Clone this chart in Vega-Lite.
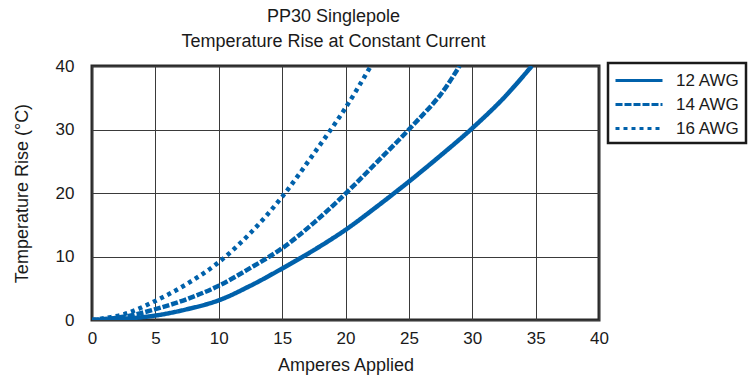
{
  "$schema": "https://vega.github.io/schema/vega-lite/v6.json",
  "width": 507,
  "height": 254,
  "autosize": {"type": "none"},
  "padding": {"left": 92, "top": 66, "right": 149, "bottom": 57},
  "background": "white",
  "title": {
    "text": ["PP30 Singlepole", "Temperature Rise at Constant Current"],
    "fontSize": 18,
    "fontWeight": "normal",
    "font": "Liberation Sans",
    "color": "#1a1a1a",
    "lineHeight": 25,
    "offset": 6,
    "dx": -12
  },
  "config": {
    "view": {"stroke": "#2a2a2a", "strokeWidth": 3},
    "font": "Liberation Sans",
    "axis": {
      "labelFont": "Liberation Sans",
      "titleFont": "Liberation Sans",
      "labelFontSize": 17,
      "titleFontSize": 18,
      "titleFontWeight": "normal",
      "labelColor": "#1a1a1a",
      "titleColor": "#1a1a1a",
      "ticks": false,
      "domain": false,
      "gridColor": "#3a3a3a",
      "gridOpacity": 1,
      "gridWidth": 1
    }
  },
  "data": {
    "values": [
      {"amps": 0, "rise": 0, "gauge": "12 AWG"},
      {"amps": 2.5, "rise": 0.2, "gauge": "12 AWG"},
      {"amps": 5, "rise": 0.7, "gauge": "12 AWG"},
      {"amps": 7.5, "rise": 1.7, "gauge": "12 AWG"},
      {"amps": 10, "rise": 3.1, "gauge": "12 AWG"},
      {"amps": 12.5, "rise": 5.4, "gauge": "12 AWG"},
      {"amps": 15, "rise": 8.1, "gauge": "12 AWG"},
      {"amps": 17.5, "rise": 11.0, "gauge": "12 AWG"},
      {"amps": 20, "rise": 14.2, "gauge": "12 AWG"},
      {"amps": 22.5, "rise": 17.9, "gauge": "12 AWG"},
      {"amps": 25, "rise": 21.8, "gauge": "12 AWG"},
      {"amps": 27.5, "rise": 25.9, "gauge": "12 AWG"},
      {"amps": 30, "rise": 30.2, "gauge": "12 AWG"},
      {"amps": 32.5, "rise": 35.0, "gauge": "12 AWG"},
      {"amps": 34.7, "rise": 40, "gauge": "12 AWG"},
      {"amps": 0, "rise": 0, "gauge": "14 AWG"},
      {"amps": 2.5, "rise": 0.5, "gauge": "14 AWG"},
      {"amps": 5, "rise": 1.7, "gauge": "14 AWG"},
      {"amps": 7.5, "rise": 3.3, "gauge": "14 AWG"},
      {"amps": 10, "rise": 5.4, "gauge": "14 AWG"},
      {"amps": 12.5, "rise": 8.2, "gauge": "14 AWG"},
      {"amps": 15, "rise": 11.3, "gauge": "14 AWG"},
      {"amps": 17.5, "rise": 15.3, "gauge": "14 AWG"},
      {"amps": 20, "rise": 19.9, "gauge": "14 AWG"},
      {"amps": 22.5, "rise": 24.9, "gauge": "14 AWG"},
      {"amps": 25, "rise": 30.0, "gauge": "14 AWG"},
      {"amps": 27.5, "rise": 35.5, "gauge": "14 AWG"},
      {"amps": 29.0, "rise": 40, "gauge": "14 AWG"},
      {"amps": 0, "rise": 0, "gauge": "16 AWG"},
      {"amps": 2.5, "rise": 0.9, "gauge": "16 AWG"},
      {"amps": 5, "rise": 3.0, "gauge": "16 AWG"},
      {"amps": 7.5, "rise": 5.7, "gauge": "16 AWG"},
      {"amps": 10, "rise": 9.1, "gauge": "16 AWG"},
      {"amps": 12.5, "rise": 13.7, "gauge": "16 AWG"},
      {"amps": 15, "rise": 19.4, "gauge": "16 AWG"},
      {"amps": 17.5, "rise": 26.2, "gauge": "16 AWG"},
      {"amps": 20, "rise": 33.4, "gauge": "16 AWG"},
      {"amps": 22.0, "rise": 40, "gauge": "16 AWG"}
    ]
  },
  "mark": {"type": "line", "interpolate": "catmull-rom", "strokeWidth": 4.5, "color": "#0061ab", "clip": true},
  "encoding": {
    "x": {
      "field": "amps",
      "type": "quantitative",
      "scale": {"domain": [0, 40], "nice": false},
      "axis": {"values": [0, 5, 10, 15, 20, 25, 30, 35, 40], "title": "Amperes Applied", "labelPadding": 10, "titlePadding": 10, "labelFlush": false}
    },
    "y": {
      "field": "rise",
      "type": "quantitative",
      "scale": {"domain": [0, 40], "nice": false},
      "axis": {"values": [0, 10, 20, 30, 40], "title": "Temperature Rise (°C)", "labelPadding": 18, "titlePadding": 24, "labelFlush": false}
    },
    "strokeDash": {
      "field": "gauge",
      "type": "nominal",
      "scale": {"domain": ["12 AWG", "14 AWG", "16 AWG"], "range": [[1, 0], [7, 2], [4, 4]]},
      "legend": {
        "title": null,
        "orient": "none",
        "legendX": 516,
        "legendY": -3,
        "symbolType": "M-1,0H3.7",
        "symbolSize": 400,
        "symbolStrokeWidth": 3,
        "symbolStrokeColor": "#0061ab",
        "symbolFillColor": "transparent",
        "labelFontSize": 17,
        "labelFont": "Liberation Sans",
        "labelColor": "#1a1a1a",
        "rowPadding": 4,
        "labelOffset": 39,
        "padding": 6,
        "strokeColor": "#1a1a1a",
        "fillColor": "white",
        "encode": {"legend": {"update": {"strokeWidth": {"value": 2.5}}}}
      }
    }
  }
}
